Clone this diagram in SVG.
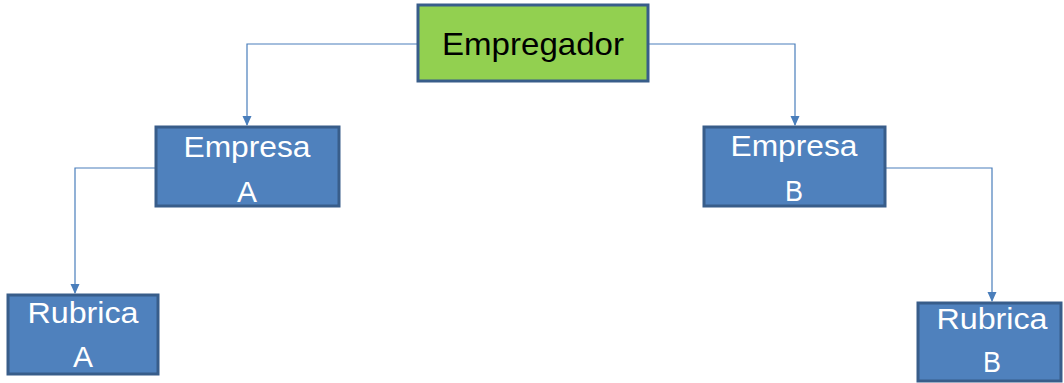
<svg xmlns="http://www.w3.org/2000/svg" width="1064" height="383" viewBox="0 0 1064 383">
<defs>
<style>
.n{fill:#4F81BD;stroke:#385D8A;stroke-width:3}
.g{fill:#92D050;stroke:#385D8A;stroke-width:3}
.t{font-family:"Liberation Sans",Arial,sans-serif;font-size:30px;fill:#FFFFFF;text-anchor:middle}
.tk{font-family:"Liberation Sans",Arial,sans-serif;font-size:32px;fill:#000000;text-anchor:middle}
.c{fill:none;stroke:#4A7EBB;stroke-width:1.2}
</style>
<marker id="ar" markerWidth="10" markerHeight="10" refX="9" refY="5" orient="auto" markerUnits="userSpaceOnUse">
<path d="M0,0.5 L10,5 L0,9.5 Z" fill="#4A7EBB"/>
</marker>
</defs>
<rect width="1064" height="383" fill="#FFFFFF"/>
<g id="connectors">
<path class="c" d="M417,44 H247 V125" marker-end="url(#ar)"/>
<path class="c" d="M649,44 H795 V125" marker-end="url(#ar)"/>
<path class="c" d="M155,168 H75 V293" marker-end="url(#ar)"/>
<path class="c" d="M886,168 H992 V301" marker-end="url(#ar)"/>
</g>
<g id="empregador">
<rect class="g" x="418" y="5" width="230" height="76"/>
<text class="tk" x="533" y="55" textLength="182" lengthAdjust="spacingAndGlyphs">Empregador</text>
</g>
<g id="empresa-a">
<rect class="n" x="156" y="127" width="183" height="79"/>
<text class="t" x="247" y="157" textLength="127" lengthAdjust="spacingAndGlyphs">Empresa</text>
<text class="t" x="247" y="202" textLength="20" lengthAdjust="spacingAndGlyphs">A</text>
</g>
<g id="empresa-b">
<rect class="n" x="704" y="127" width="181" height="79"/>
<text class="t" x="794" y="156" textLength="127" lengthAdjust="spacingAndGlyphs">Empresa</text>
<text class="t" x="794" y="201" textLength="18" lengthAdjust="spacingAndGlyphs">B</text>
</g>
<g id="rubrica-a">
<rect class="n" x="8" y="295" width="150" height="79"/>
<text class="t" x="83" y="323" textLength="111" lengthAdjust="spacingAndGlyphs">Rubrica</text>
<text class="t" x="83" y="367" textLength="20" lengthAdjust="spacingAndGlyphs">A</text>
</g>
<g id="rubrica-b">
<rect class="n" x="918" y="303" width="143" height="78"/>
<text class="t" x="992" y="329" textLength="111" lengthAdjust="spacingAndGlyphs">Rubrica</text>
<text class="t" x="992" y="372" textLength="18" lengthAdjust="spacingAndGlyphs">B</text>
</g>
</svg>
